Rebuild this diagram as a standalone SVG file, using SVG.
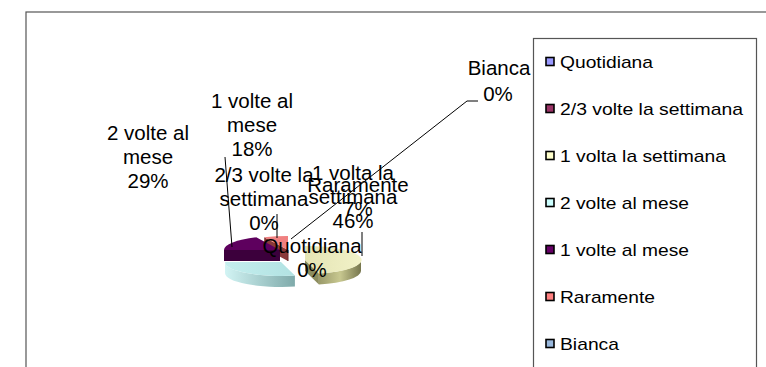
<svg xmlns="http://www.w3.org/2000/svg" width="766" height="367" viewBox="0 0 766 367">
<defs>
<style>
.t{font-family:"Liberation Sans",Arial,sans-serif;font-size:20.5px;fill:#000;text-anchor:middle}
.lg{font-family:"Liberation Sans",Arial,sans-serif;font-size:17px;fill:#000}
.mk{stroke:#000;stroke-width:1.6}
.ln{stroke:#000;stroke-width:1;fill:none}
.frame{fill:#fff;stroke:#555;stroke-width:1.2}
</style>
<linearGradient id="cyanSide" x1="0" y1="0" x2="1" y2="0">
<stop offset="0" stop-color="#D2F4F4"/><stop offset="1" stop-color="#7FAAAA"/>
</linearGradient>
<linearGradient id="cyanTop" x1="0" y1="0" x2="1" y2="0">
<stop offset="0" stop-color="#C4EEEE"/><stop offset="1" stop-color="#B2E2E2"/>
</linearGradient>
<linearGradient id="yelSide" x1="0" y1="0" x2="1" y2="0">
<stop offset="0" stop-color="#9A9A6A"/><stop offset="0.5" stop-color="#C8C890"/><stop offset="1" stop-color="#76764E"/>
</linearGradient>
<linearGradient id="yelTop" x1="0" y1="0" x2="1" y2="0">
<stop offset="0" stop-color="#E4E4B4"/><stop offset="1" stop-color="#F2F2C8"/>
</linearGradient>
</defs>
<rect class="frame" x="26" y="12" width="800" height="400"/>
<rect class="frame" x="533.5" y="38.5" width="223" height="340"/>

<g id="pie">
<g id="slice-raramente">
<path d="M288,250 L264.2,237.3 L264.2,248.3 L288,261 Z" fill="#8A3A3A"/>
<path d="M288,250 L288,261" stroke="#6A2A2A" stroke-width="1"/>
<path d="M288,250 L264.2,237.3 A56,14 0 0 1 288,236 Z" fill="#F08080"/>
</g>
<g id="slice-1-volte-al-mese">
<path d="M224,250 L280,250 L280,261 L224,261 Z" fill="#3C003C"/>
<path d="M280,250 L224,250 A56,14 0 0 1 256.2,237.3 Z" fill="#5E005E"/>
</g>
<g id="slice-1-volta-la-settimana">
<path d="M305,260 L318.9,273.6 L318.9,284.6 L305,271 Z" fill="#8C8C5E"/>
<path d="M361,260 A56,14 0 0 1 318.9,273.6 L318.9,284.6 A56,14 0 0 0 361,271 Z" fill="url(#yelSide)"/>
<path d="M305,260 L305,246 A56,14 0 0 1 318.9,273.6 Z" fill="url(#yelTop)"/>
</g>
<g id="slice-2-volte-al-mese">
<path d="M294.9,275.6 A56,14 0 0 1 225,262 L225,273 A56,14 0 0 0 294.9,286.6 Z" fill="url(#cyanSide)"/>
<path d="M281,262 L294.9,275.6 A56,14 0 0 1 225,262 Z" fill="url(#cyanTop)"/>
</g>
</g>

<g id="connectors">
<path class="ln" d="M478,101 L467,101 L291,239"/>
<path class="ln" d="M225,157 L232,247"/>
<path class="ln" d="M277,214 L277,238"/>
<path class="ln" d="M362,232 L362,256"/>
</g>

<g id="label-2-volte-al-mese">
<text class="t" x="148" y="140">2 volte al</text>
<text class="t" x="148" y="164">mese</text>
<text class="t" x="148" y="188">29%</text>
</g>
<g id="label-1-volte-al-mese">
<text class="t" x="252" y="108">1 volte al</text>
<text class="t" x="252" y="132">mese</text>
<text class="t" x="252" y="156">18%</text>
</g>
<g id="label-2-3-volte">
<text class="t" x="264" y="182">2/3 volte la</text>
<text class="t" x="264" y="206">settimana</text>
<text class="t" x="264" y="230">0%</text>
</g>
<g id="label-raramente">
<text class="t" x="358" y="192">Raramente</text>
<text class="t" x="358" y="216">7%</text>
</g>
<g id="label-1-volta">
<text class="t" x="353" y="180">1 volta la</text>
<text class="t" x="353" y="204">settimana</text>
<text class="t" x="353" y="228">46%</text>
</g>
<g id="label-quotidiana">
<text class="t" x="312" y="253">Quotidiana</text>
<text class="t" x="312" y="277">0%</text>
</g>
<g id="label-bianca">
<text class="t" x="499" y="75">Bianca</text>
<text class="t" x="498" y="101">0%</text>
</g>

<g id="legend">
<g id="legend-quotidiana"><rect class="mk" x="546" y="57.5" width="8" height="8" fill="#9999FF"/><text class="lg" x="560" y="68" textLength="93" lengthAdjust="spacingAndGlyphs">Quotidiana</text></g>
<g id="legend-2-3"><rect class="mk" x="546" y="104.5" width="8" height="8" fill="#993366"/><text class="lg" x="560" y="115" textLength="183" lengthAdjust="spacingAndGlyphs">2/3 volte la settimana</text></g>
<g id="legend-1-volta"><rect class="mk" x="546" y="151.5" width="8" height="8" fill="#FFFFCC"/><text class="lg" x="560" y="162" textLength="166" lengthAdjust="spacingAndGlyphs">1 volta la settimana</text></g>
<g id="legend-2-volte"><rect class="mk" x="546" y="198.5" width="8" height="8" fill="#CCFFFF"/><text class="lg" x="560" y="209" textLength="129" lengthAdjust="spacingAndGlyphs">2 volte al mese</text></g>
<g id="legend-1-volte"><rect class="mk" x="546" y="245.5" width="8" height="8" fill="#660066"/><text class="lg" x="560" y="256" textLength="129" lengthAdjust="spacingAndGlyphs">1 volte al mese</text></g>
<g id="legend-raramente"><rect class="mk" x="546" y="292.5" width="8" height="8" fill="#FF8080"/><text class="lg" x="560" y="303" textLength="95" lengthAdjust="spacingAndGlyphs">Raramente</text></g>
<g id="legend-bianca"><rect class="mk" x="546" y="339.5" width="8" height="8" fill="#99B8DD"/><text class="lg" x="560" y="350" textLength="59" lengthAdjust="spacingAndGlyphs">Bianca</text></g>
</g>
</svg>
